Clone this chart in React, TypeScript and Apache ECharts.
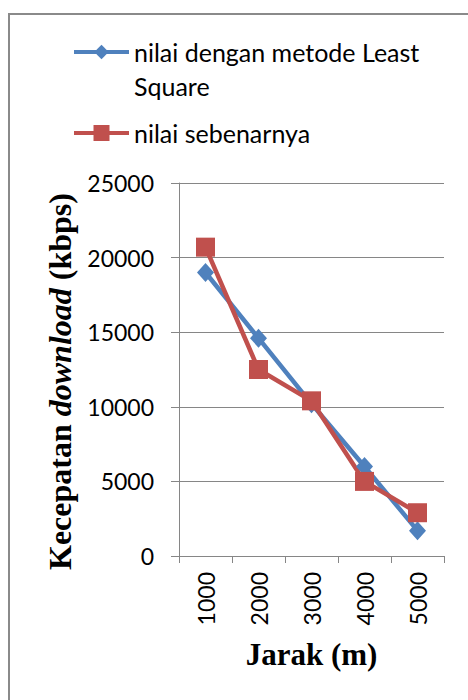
import React, { useEffect, useRef } from "react";
import * as echarts from "echarts";

const categories = ["1000", "2000", "3000", "4000", "5000"];
const leastSquare = [19000, 14600, 10200, 6000, 1700];
const actual = [20700, 12500, 10400, 5000, 2900];
const seriesNames = ["nilai dengan metode Least Square", "nilai sebenarnya"];
const yTicks = { min: 0, max: 25000, interval: 5000 };

const BLUE = "#4F81BD";
const RED = "#C0504D";
const GREY = "#868686";
const SANS = "Lato";
const SERIF = "Liberation Serif";

export default function App() {
  const ref = useRef<HTMLDivElement>(null);
  useEffect(() => {
    if (!ref.current) return;
    const chart = echarts.init(ref.current, null, { renderer: "svg" });
    chart.setOption({
      animation: false,
      backgroundColor: "#fff",
      graphic: [
        {
          type: "rect",
          shape: { x: 9, y: 14, width: 480, height: 720 },
          style: { fill: "none", stroke: "#8a8a8a", lineWidth: 2 },
          silent: true,
        },
      ],
      legend: [
        {
          data: [seriesNames[0]],
          left: 72,
          top: 1,
          orient: "vertical",
          padding: 0,
          itemWidth: 55,
          itemHeight: 18,
          lineStyle: { width: 4 },
          formatter: () => "\nnilai dengan metode Least\nSquare",
          textStyle: {
            fontFamily: SANS,
            fontSize: 25,
            color: "#000",
            lineHeight: 34,
          },
        },
        {
          data: [seriesNames[1]],
          left: 72,
          top: 116,
          orient: "vertical",
          padding: 0,
          itemWidth: 55,
          itemHeight: 20,
          lineStyle: { width: 4 },
          textStyle: {
            fontFamily: SANS,
            fontSize: 25,
            color: "#000",
            lineHeight: 34,
          },
        },
      ],
      grid: { left: 179, right: 24, top: 183, bottom: 144, containLabel: false },
      xAxis: {
        type: "category",
        data: categories,
        boundaryGap: true,
        axisLine: { show: true, lineStyle: { color: GREY, width: 1 } },
        axisTick: { show: true, length: 7, alignWithLabel: false, lineStyle: { color: GREY } },
        axisLabel: {
          rotate: 90,
          margin: 16,
          fontFamily: SANS,
          fontSize: 23,
          color: "#000",
        },
        name: "Jarak (m)",
        nameLocation: "middle",
        nameGap: 83,
        nameTextStyle: {
          fontFamily: SERIF,
          fontWeight: "bold",
          fontSize: 31,
          color: "#000",
        },
      },
      yAxis: {
        type: "value",
        min: yTicks.min,
        max: yTicks.max,
        interval: yTicks.interval,
        axisLine: { show: true, lineStyle: { color: GREY, width: 1 } },
        axisTick: { show: true, length: 8, lineStyle: { color: GREY } },
        splitLine: { show: true, lineStyle: { color: GREY, width: 1 } },
        axisLabel: {
          margin: 25,
          fontFamily: SANS,
          fontSize: 23,
          color: "#000",
          formatter: (v: number) => String(v),
        },
        name: "{b|Kecepatan }{i|download}{b| (kbps)}",
        nameLocation: "middle",
        nameGap: 102,
        nameTextStyle: {
          color: "#000",
          padding: [0, 24, 0, 0],
          rich: {
            b: { fontFamily: SERIF, fontWeight: "bold", fontSize: 32, color: "#000" },
            i: {
              fontFamily: SERIF,
              fontWeight: "bold",
              fontStyle: "italic",
              fontSize: 32,
              color: "#000",
            },
          },
        },
      },
      series: [
        {
          name: seriesNames[0],
          type: "line",
          data: leastSquare,
          symbol: "diamond",
          symbolSize: [17, 19],
          lineStyle: { color: BLUE, width: 4.5 },
          itemStyle: { color: BLUE },
        },
        {
          name: seriesNames[1],
          type: "line",
          data: actual,
          symbol: "rect",
          symbolSize: 19,
          lineStyle: { color: RED, width: 4.5 },
          itemStyle: { color: RED },
        },
      ],
    });
    return () => chart.dispose();
  }, []);
  return (
    <div
      ref={ref}
      style={{ position: "fixed", left: 0, top: 0, width: 468, height: 700 }}
    />
  );
}
